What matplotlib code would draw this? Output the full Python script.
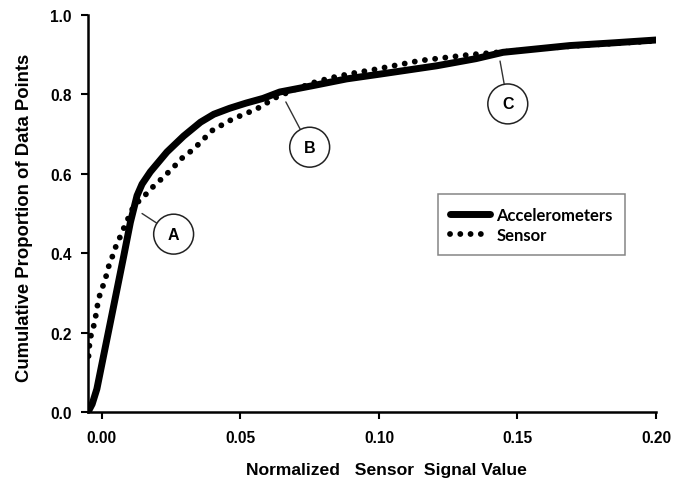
import matplotlib
matplotlib.use("Agg")
import matplotlib.pyplot as plt

# ---- data ----
acc_x = [-0.0050, -0.0035, -0.0018, 0.0006, 0.0031, 0.0055, 0.0079, 0.0103, 0.0127,
         0.0145, 0.0175, 0.0235, 0.0295, 0.0356, 0.0404, 0.0461, 0.0520, 0.0582,
         0.0642, 0.0761, 0.0883, 0.1003, 0.1208, 0.1350, 0.1448, 0.1689, 0.1850, 0.2000]
acc_y = [0.000, 0.020, 0.058, 0.141, 0.227, 0.310, 0.393, 0.478, 0.545,
         0.574, 0.605, 0.655, 0.695, 0.730, 0.750, 0.765, 0.778, 0.790,
         0.806, 0.822, 0.839, 0.851, 0.872, 0.890, 0.906, 0.923, 0.930, 0.937]

sen_x = [-0.0048, -0.0043, -0.0032, -0.0024, -0.0012, 0.0000, 0.0013, 0.0021, 0.0037,
         0.0051, 0.0067, 0.0082, 0.0099, 0.0115, 0.0153, 0.0187, 0.0223, 0.0259,
         0.0293, 0.0331, 0.0368, 0.0400, 0.0472, 0.0558, 0.0630, 0.0702, 0.0774,
         0.0847, 0.0919, 0.0979, 0.1147, 0.1328, 0.1500, 0.1700, 0.2000]
sen_y = [0.141, 0.184, 0.209, 0.234, 0.285, 0.310, 0.335, 0.360, 0.390,
         0.418, 0.443, 0.468, 0.494, 0.519, 0.544, 0.569, 0.592, 0.617,
         0.642, 0.662, 0.688, 0.710, 0.738, 0.763, 0.793, 0.814, 0.832,
         0.845, 0.855, 0.862, 0.885, 0.900, 0.910, 0.922, 0.935]

series_labels = ["Accelerometers", "Sensor"]
x_ticks = [0.00, 0.05, 0.10, 0.15, 0.20]
x_tick_labels = ["0.00", "0.05", "0.10", "0.15", "0.20"]
y_ticks = [0.0, 0.2, 0.4, 0.6, 0.8, 1.0]
y_tick_labels = ["0.0", "0.2", "0.4", "0.6", "0.8", "1.0"]

annot_labels = ["A", "B", "C"]
annot_xy = [(0.0145, 0.500), (0.0664, 0.781), (0.1437, 0.884)]
annot_text_xy = [(0.0259, 0.448), (0.0750, 0.667), (0.1465, 0.776)]

# ---- figure ----
fig = plt.figure(figsize=(6.78, 4.89), dpi=100)
ax = fig.add_axes([0.1298, 0.1554, 0.8378, 0.8119])

ax.plot(acc_x, acc_y, color="black", lw=5.0, solid_capstyle="round",
        solid_joinstyle="round", label=series_labels[0], zorder=3)
ax.plot(sen_x, sen_y, color="black", lw=4.2, linestyle=(0, (0.01, 1.75)),
        dash_capstyle="round", label=series_labels[1], zorder=4)

ax.set_xlim(-0.005, 0.20)
ax.set_ylim(0.0, 1.0)

ax.spines["top"].set_visible(False)
ax.spines["right"].set_visible(False)
for s in ("left", "bottom"):
    ax.spines[s].set_linewidth(1.8)
    ax.spines[s].set_color("black")

tick_font = dict(family="Liberation Sans", weight="bold", size=11.2)
ax.set_xticks(x_ticks)
ax.set_xticklabels(x_tick_labels, fontdict=tick_font)
ax.set_yticks(y_ticks)
ax.set_yticklabels(y_tick_labels, fontdict=tick_font)
ax.tick_params(axis="both", direction="out", length=4.7, width=1.5, color="black")
ax.tick_params(axis="x", pad=8.5)
ax.tick_params(axis="y", pad=7)

ax.set_xlabel("Normalized   Sensor  Signal Value", family="Liberation Sans",
              weight="bold", size=12.6)
ax.xaxis.set_label_coords(0.525, -0.126)
ax.set_ylabel("Cumulative Proportion of Data Points", family="Liberation Sans",
              weight="bold", size=13.3)
ax.yaxis.set_label_coords(-0.097, 0.491)

for lab, xy, xyt in zip(annot_labels, annot_xy, annot_text_xy):
    ax.annotate(lab, xy=xy, xytext=xyt, textcoords="data",
                ha="center", va="center", family="Liberation Sans",
                weight="bold", size=11.5,
                bbox=dict(boxstyle="circle,pad=0.78", fc="white", ec="#222222", lw=1.1),
                arrowprops=dict(arrowstyle="-", color="#333333", lw=1.0,
                                shrinkA=0, shrinkB=0), zorder=5)

leg = ax.legend(loc="upper left", bbox_to_anchor=(0.616, 0.549), borderaxespad=0,
                frameon=True, fancybox=False, handlelength=2.4, handletextpad=0.35,
                borderpad=0.75, labelspacing=0.25,
                prop=dict(family="Lato", weight="bold", size=12.0))
leg.get_frame().set_edgecolor("#666666")
leg.get_frame().set_linewidth(1.1)

fig.savefig("out.png", dpi=100)
